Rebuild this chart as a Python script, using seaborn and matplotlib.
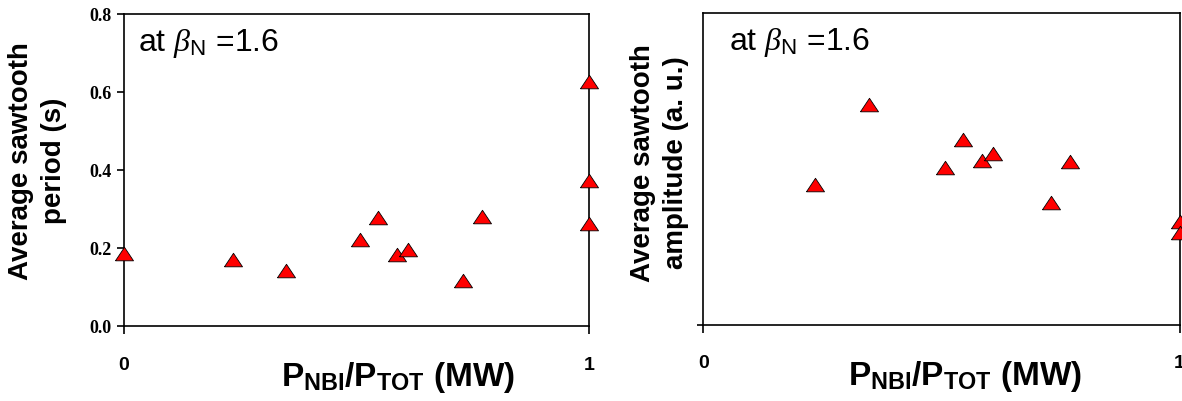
import numpy as np
import pandas as pd
import matplotlib
matplotlib.use('Agg')
import matplotlib.pyplot as plt
import seaborn as sns

# datos
x_period = [0.0, 0.234, 0.348, 0.507, 0.546, 0.587, 0.610, 0.729, 0.769, 1.0, 1.0, 1.0]
y_period = [0.185, 0.169, 0.141, 0.220, 0.278, 0.182, 0.195, 0.116, 0.279, 0.626, 0.372, 0.262]

x_amp = [0.234, 0.347, 0.507, 0.545, 0.586, 0.609, 0.730, 0.770, 1.0, 1.0]
y_amp = [0.448, 0.704, 0.502, 0.592, 0.525, 0.546, 0.392, 0.521, 0.328, 0.293]

period_ticks = [0.0, 0.2, 0.4, 0.6, 0.8]
x_ticks = [0, 1]

sns.set_style('ticks')
plt.rcParams['font.family'] = ['Liberation Sans', 'DejaVu Sans']
plt.rcParams['mathtext.fontset'] = 'custom'
plt.rcParams['mathtext.rm'] = 'Liberation Sans'
plt.rcParams['mathtext.it'] = 'Liberation Serif:italic'
plt.rcParams['mathtext.bf'] = 'Liberation Sans:bold'
for k in ['text.color', 'axes.labelcolor', 'xtick.color', 'ytick.color']:
    plt.rcParams[k] = 'black'

df1 = pd.DataFrame({'x': x_period, 'y': y_period})
df2 = pd.DataFrame({'x': x_amp, 'y': y_amp})

tri = np.array([[-1.0, -0.7], [1.0, -0.7], [0.0, 0.8], [-1.0, -0.7]])

fig = plt.figure(figsize=(11.82, 4.01), dpi=100)
ax1 = fig.add_axes([0.1049, 0.187, 0.3934, 0.778])
ax2 = fig.add_axes([0.595, 0.190, 0.403, 0.778])

xlab = r'P$_{\mathbf{NBI}}$/P$_{\mathbf{TOT}}$ (MW)'
note = r'at $\beta_{\mathrm{N}}$ =1.6'

for ax, df in [(ax1, df1), (ax2, df2)]:
    sns.scatterplot(data=df, x='x', y='y', ax=ax, marker=tri, s=169,
                    color='#ff0000', edgecolor='black', linewidth=0.6,
                    clip_on=False, zorder=5)
    for sp in ax.spines.values():
        sp.set_visible(True)
        sp.set_linewidth(1.2)
        sp.set_color('black')
    ax.set_xlim(0, 1)
    ax.set_xticks(x_ticks)
    ax.set_xticklabels(['0', '1'], fontsize=14, fontweight='bold')
    ax.tick_params(axis='x', direction='out', length=6, width=1.2, pad=16)
    ax.set_xlabel(xlab, fontsize=24, fontweight='bold', va='top')
    ax.text(0.03 if ax is ax1 else 0.055, 0.905, note, transform=ax.transAxes,
            fontsize=23, va='center', ha='left')

ax1.set_ylim(0, 0.8)
ax1.set_yticks(period_ticks)
ax1.set_yticklabels([f'{t:.1f}' for t in period_ticks], fontsize=13,
                    fontweight='bold', family='Liberation Serif')
ax1.tick_params(axis='y', direction='out', length=5, width=1.2, pad=4)
ax1.set_ylabel('Average sawtooth\nperiod (s)', fontsize=20, fontweight='bold',
               linespacing=1.35)
ax1.xaxis.set_label_coords(0.59, -0.11)
ax1.yaxis.set_label_coords(-0.123, 0.53)

ax2.set_ylim(0, 1)
ax2.set_yticks([0])
ax2.set_yticklabels([''])
ax2.tick_params(axis='y', direction='out', length=4, width=1.2)
ax2.set_ylabel('Average sawtooth\namplitude (a. u.)', fontsize=20,
               fontweight='bold', linespacing=1.35)
ax2.xaxis.set_label_coords(0.55, -0.11)
ax2.yaxis.set_label_coords(-0.031, 0.52)

fig.savefig('out.png', dpi=100)
